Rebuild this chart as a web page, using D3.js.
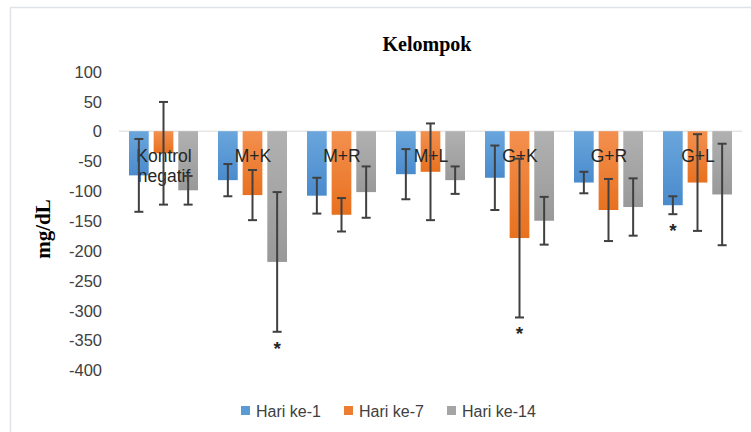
<!DOCTYPE html>
<html><head><meta charset="utf-8">
<script src="https://cdn.jsdelivr.net/npm/d3@7"></script>
<style>body{margin:0;background:#fff}svg{display:block}</style>
</head><body>
<svg id="c" width="751" height="432"></svg>
<script>
const categories = ["Kontrol negatif","M+K","M+R","M+L","G+K","G+R","G+L"];
const seriesNames = ["Hari ke-1","Hari ke-7","Hari ke-14"];
const hari1  = [-74, -82, -108, -72, -78, -86, -124];
const hari7  = [-37, -107, -140, -68, -179, -132, -86];
const hari14 = [-99, -219, -102, -82, -150, -127, -106];
const sd1  = [61, 27, 30, 42, 54, 18, 15];
const sd7  = [86, 42, 28, 81, 133, 52, 81];
const sd14 = [24, 117, 43, 23, 40, 48, 85];
const yTicks = [100, 50, 0, -50, -100, -150, -200, -250, -300, -350, -400];
const significant = [["M+K", 2], ["G+K", 1], ["G+L", 0]];
const colors = ["#5b9bd5", "#ed7d31", "#a5a5a5"];

const values = [hari1, hari7, hari14];
const sds = [sd1, sd7, sd14];
const svg = d3.select("#c");
const font = "'Liberation Sans', Arial, sans-serif";

// gradients
const defs = svg.append("defs");
const gradStops = [["#6aa6dc","#4a8bcd"],["#f3904f","#e8711f"],["#b1b1b1","#999999"]];
gradStops.forEach((g,i)=>{
  const lg = defs.append("linearGradient").attr("id","g"+i).attr("x1",0).attr("y1",0).attr("x2",0).attr("y2",1);
  lg.append("stop").attr("offset","0%").attr("stop-color",g[0]);
  lg.append("stop").attr("offset","100%").attr("stop-color",g[1]);
});

// border
svg.append("line").attr("x1",10).attr("x2",751).attr("y1",7.5).attr("y2",7.5).attr("stroke","#dfe3e8").attr("stroke-width",1.5);
svg.append("line").attr("x1",10.5).attr("x2",10.5).attr("y1",7).attr("y2",432).attr("stroke","#dfe3e8").attr("stroke-width",1.5);

const x = d3.scaleBand().domain(categories).range([119, 742]);
const xs = d3.scaleBand().domain(d3.range(3)).range([10, 79]).paddingInner(0.2);
const y = d3.scaleLinear().domain([-400, 100]).range([370, 71.5]);

// y axis
const yAxis = svg.append("g").attr("transform","translate(102,0)")
  .call(d3.axisLeft(y).tickValues(yTicks).tickSize(0).tickPadding(0).tickFormat(d=>String(d)));
yAxis.select(".domain").remove();
yAxis.selectAll("text").attr("font-family",font).attr("font-size",16.5).attr("fill","#404040").attr("dy","0.35em");

// zero line
svg.append("line").attr("x1",119).attr("x2",742).attr("y1",y(0)).attr("y2",y(0)).attr("stroke","#d9d9d9").attr("stroke-width",1);

// bars
const groups = svg.selectAll("g.grp").data(categories).join("g").attr("class","grp")
  .attr("transform",d=>`translate(${x(d)},0)`);
groups.each(function(cat, ci){
  const g = d3.select(this);
  for (let s=0;s<3;s++){
    const v = values[s][ci];
    g.append("rect").attr("x",xs(s)).attr("width",xs.bandwidth())
      .attr("y",y(Math.max(0,v))).attr("height",Math.abs(y(v)-y(0)))
      .attr("fill",`url(#g${s})`);
  }
});
// category labels
groups.each(function(cat){
  const g = d3.select(this);
  const words = cat.split(" ");
  words.forEach((w,i)=>{
    g.append("text").attr("x",x.bandwidth()/2 + 0.5).attr("y",161.5 + i*20.5)
      .attr("text-anchor","middle").attr("font-family",font).attr("font-size",17.5)
      .attr("fill","#262626").text(w);
  });
});
// error bars
groups.each(function(cat, ci){
  const g = d3.select(this);
  for (let s=0;s<3;s++){
    const v = values[s][ci], e = sds[s][ci];
    const cx = xs(s) + xs.bandwidth()/2;
    const eg = g.append("g").attr("stroke","#404040").attr("stroke-width",2);
    eg.append("line").attr("x1",cx).attr("x2",cx).attr("y1",y(v+e)).attr("y2",y(v-e));
    eg.append("line").attr("x1",cx-4.5).attr("x2",cx+4.5).attr("y1",y(v+e)).attr("y2",y(v+e));
    eg.append("line").attr("x1",cx-4.5).attr("x2",cx+4.5).attr("y1",y(v-e)).attr("y2",y(v-e));
  }
});
// significance asterisks
significant.forEach(([cat,s])=>{
  const ci = categories.indexOf(cat);
  const cx = x(cat) + xs(s) + xs.bandwidth()/2;
  svg.append("text").attr("x",cx).attr("y",y(values[s][ci]-sds[s][ci]) + 23)
    .attr("text-anchor","middle").attr("font-family",font).attr("font-weight","bold")
    .attr("font-size",19).attr("fill","#262626").text("*");
});

// title
svg.append("text").attr("x",427).attr("y",51).attr("text-anchor","middle")
  .attr("font-family","'Liberation Serif','Times New Roman',serif").attr("font-weight","bold")
  .attr("font-size",20).attr("fill","#000").text("Kelompok");
// y title
svg.append("text").attr("transform","translate(50,229) rotate(-90)").attr("text-anchor","middle")
  .attr("font-family","'Liberation Serif','Times New Roman',serif").attr("font-weight","bold")
  .attr("font-size",21).attr("fill","#000").text("mg/dL");

// legend
const legX = [241, 344, 447];
seriesNames.forEach((n,i)=>{
  svg.append("rect").attr("x",legX[i]).attr("y",406).attr("width",9).attr("height",9).attr("fill",colors[i]);
  svg.append("text").attr("x",legX[i]+15).attr("y",416.5).attr("font-family",font).attr("font-size",16)
    .attr("fill","#404040").text(n);
});
</script>
</body></html>
